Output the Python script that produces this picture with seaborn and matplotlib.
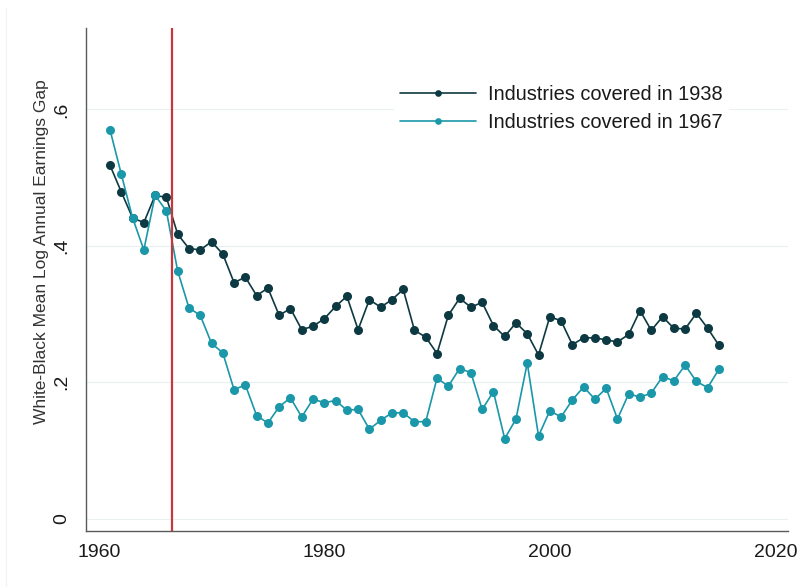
import pandas as pd
import numpy as np
import matplotlib.pyplot as plt
import seaborn as sns
from matplotlib.lines import Line2D

sns.set_theme(style="white")
plt.rcParams['font.family'] = ['Liberation Sans', 'DejaVu Sans']

years = list(range(1961, 2016))
gap_1938 = [0.518, 0.479, 0.441, 0.434, 0.474, 0.471, 0.417, 0.396, 0.394, 0.406,
            0.388, 0.346, 0.354, 0.327, 0.338, 0.298, 0.308, 0.277, 0.282, 0.293,
            0.311, 0.326, 0.277, 0.321, 0.310, 0.321, 0.336, 0.276, 0.266, 0.242,
            0.298, 0.323, 0.310, 0.317, 0.283, 0.267, 0.287, 0.271, 0.240, 0.296,
            0.290, 0.255, 0.265, 0.265, 0.262, 0.259, 0.270, 0.305, 0.276, 0.296,
            0.279, 0.278, 0.301, 0.279, 0.254]
gap_1967 = [0.570, 0.505, 0.441, 0.394, 0.474, 0.451, 0.363, 0.309, 0.298, 0.257,
            0.243, 0.189, 0.196, 0.151, 0.140, 0.164, 0.177, 0.149, 0.175, 0.170,
            0.173, 0.159, 0.160, 0.131, 0.144, 0.155, 0.155, 0.142, 0.142, 0.206,
            0.194, 0.220, 0.214, 0.160, 0.186, 0.117, 0.146, 0.228, 0.121, 0.158,
            0.149, 0.174, 0.193, 0.175, 0.191, 0.146, 0.183, 0.178, 0.184, 0.208,
            0.202, 0.225, 0.201, 0.192, 0.219]
labels = ['Industries covered in 1938', 'Industries covered in 1967']
colors = ['#0d3a42', '#1a97a9']
y_ticks = [0, 0.2, 0.4, 0.6]
y_ticklabels = ['0', '.2', '.4', '.6']
x_ticks = [1960, 1980, 2000, 2020]

df = pd.concat([
    pd.DataFrame({'year': years, 'gap': gap_1938, 'group': labels[0]}),
    pd.DataFrame({'year': years, 'gap': gap_1967, 'group': labels[1]}),
])

fig = plt.figure(figsize=(7.98, 5.87), dpi=100)
ax = fig.add_axes([86 / 798, 1 - 531 / 587, (788.3 - 86) / 798, (531 - 28.3) / 587])

sns.lineplot(data=df, x='year', y='gap', hue='group', hue_order=labels,
             palette=colors, marker='o', markersize=6.5, markeredgewidth=0,
             linewidth=1.2, legend=False, ax=ax, zorder=3)

# reform year
ax.axvline(1966.5, color='#c8363a', linewidth=1.6, zorder=4)

ax.set_xlim(1958.87, 2021.15)
ax.set_ylim(-0.0183, 0.719)
ax.set_xticks(x_ticks)
ax.set_xticklabels([str(t) for t in x_ticks], fontsize=14)
ax.set_yticks(y_ticks)
ax.set_yticklabels(y_ticklabels, fontsize=14, rotation=90, va='center')
ax.set_xlabel('')
ax.set_ylabel('')
ax.yaxis.grid(True, color='#e8f0f1', linewidth=0.8)
ax.set_axisbelow(True)

sns.despine(ax=ax)
for s in ['left', 'bottom']:
    ax.spines[s].set_color('#5a5a5a')
    ax.spines[s].set_linewidth(1.0)
ax.tick_params(axis='both', direction='out', length=6.5, width=1.0, color='#5a5a5a',
               labelcolor='#1a1a1a')
ax.tick_params(axis='x', pad=3)
ax.tick_params(axis='y', pad=5)

fig.text(41.7 / 798, 1 - 251.7 / 587, 'White-Black Mean Log Annual Earnings Gap',
         rotation=90, ha='center', va='center', fontsize=12.5, color='#333333')

# faint outer frame line on the left
fig.add_artist(Line2D([6 / 798, 6 / 798], [0, 1 - 8 / 587], color='#eef3f4',
                      linewidth=0.8, transform=fig.transFigure))

handles = [Line2D([0], [0], color=c, linewidth=1.2, marker='o', markersize=4.8,
                  markeredgewidth=0) for c in colors]
leg = ax.legend(handles, labels, loc='upper left', bbox_to_anchor=(394 / 798, 1 - 79 / 587),
                bbox_transform=fig.transFigure, fontsize=14.4, frameon=True,
                facecolor='white', edgecolor='none', framealpha=1, fancybox=False,
                handlelength=3.8, handletextpad=0.6, labelspacing=0.45,
                borderpad=0.3, borderaxespad=0)
leg.set_zorder(5)
for t in leg.get_texts():
    t.set_color('#1a1a1a')

fig.savefig('out.png', dpi=100)
